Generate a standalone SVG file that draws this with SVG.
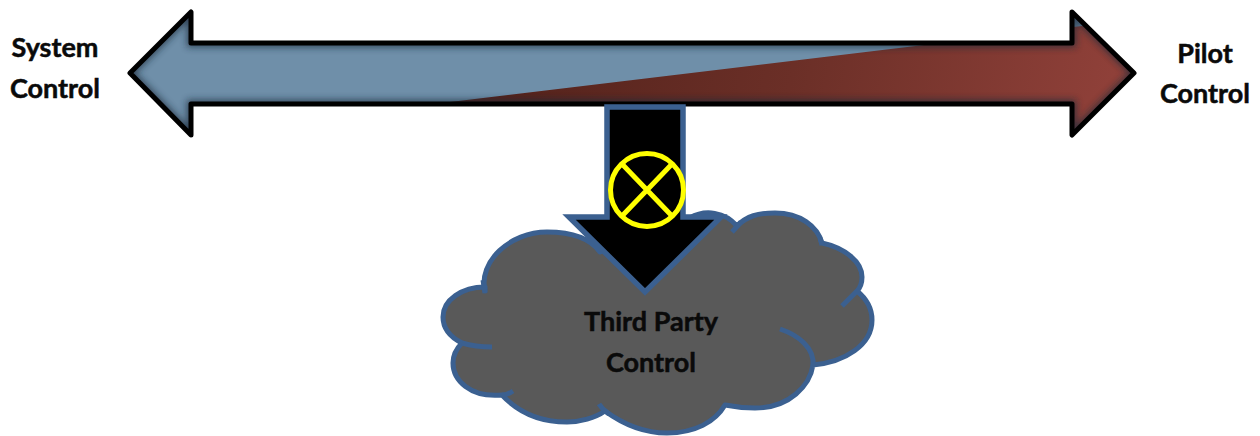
<svg xmlns="http://www.w3.org/2000/svg" width="1260" height="436" viewBox="0 0 1260 436">
<style>
.t{font-family:"Lato","Liberation Sans",sans-serif;font-weight:700;font-size:27px;fill:#0a0a0a;stroke:#0a0a0a;stroke-width:.5;text-anchor:middle}
.c{stroke:#3b6090;stroke-width:5;fill:none;stroke-linecap:butt}
.y{stroke:#ffff00;stroke-width:5;fill:none}
</style>
<defs>
<linearGradient id="red" x1="450" y1="0" x2="1136" y2="137" gradientUnits="userSpaceOnUse"><stop offset="0" stop-color="#4f2019"/><stop offset=".5" stop-color="#6b2f27"/><stop offset="1" stop-color="#93423b"/></linearGradient>
<clipPath id="ac"><path d="M130 73L191 12V43H1072V12L1134 73L1072 135V104H191V135Z"/></clipPath>
<filter id="b" x="-5%" y="-30%" width="110%" height="160%"><feGaussianBlur stdDeviation="3.5"/></filter>
</defs>
<g id="double-arrow">
<g clip-path="url(#ac)">
<rect x="120" y="0" width="1030" height="145" fill="#6f8fa9"/>
<path d="M450 102L1090 25L1140 25V145H1060V106H450Z" fill="url(#red)"/>
<path d="M130 73L191 12V43H1072V12L1134 73L1072 135V104H191V135Z" fill="none" stroke="#1c2c3a" stroke-width="8" filter="url(#b)" opacity=".75"/>
</g>
<path d="M130 73L191 12V43H1072V12L1134 73L1072 135V104H191V135Z" fill="none" stroke="#000" stroke-width="5" stroke-linejoin="round"/>
</g>
<g id="third-party-cloud">
<path d="M485 291C478 262 510 232 547 232C570 232 590 238 600 252L690 218C705 209 725 212 737 226C747 216 758 213 775 213C800 213 817 226 822 243C845 248 862 262 862 277C862 284 860 288 857 291C868 300 872 310 872 320C872 345 845 362 813 365C810 385 790 408 755 408C745 408 735 407 725 405C715 422 695 433 667 433C640 433 620 422 605 411C595 418 580 422 567 422C540 422 518 412 502 395C470 398 453 380 453 363C453 355 456 349 462 343C450 337 443 328 443 317C443 300 462 287 485 287Z" fill="#595959" stroke="#3b6090" stroke-width="5" stroke-linejoin="round"/>
<path class="c" d="M842 306L857 291"/>
<path class="c" d="M780 329C798 335 815 348 813 366"/>
<path class="c" d="M462 343C472 346 482 347 492 347"/>
<path class="c" d="M502 395C506 395 510 393 513 391"/>
<path class="c" d="M599 404C602 409 605 411 609 414"/>
<path class="c" d="M732 232L741 222"/>
<path class="c" d="M485 293L483 280"/>
<path class="c" d="M822 245L820 238"/>
<text class="t" x="651" y="331">Third Party</text>
<text class="t" x="651" y="372">Control</text>
</g>
<g id="down-arrow">
<path d="M607 107H683V217H721L645 292L569 217H607Z" fill="#000" stroke="#3b6090" stroke-width="5.500" stroke-linejoin="miter"/>
</g>
<g id="junction">
<circle cx="647" cy="190" r="36.500" class="y" style="fill:#000"/>
<path class="y" d="M622 164L672 216M672 164L622 216"/>
</g>
<g id="system-control"><text class="t" x="55" y="57">System</text><text class="t" x="55" y="98">Control</text></g>
<g id="pilot-control"><text class="t" x="1205" y="63">Pilot</text><text class="t" x="1205" y="103">Control</text></g>
</svg>
